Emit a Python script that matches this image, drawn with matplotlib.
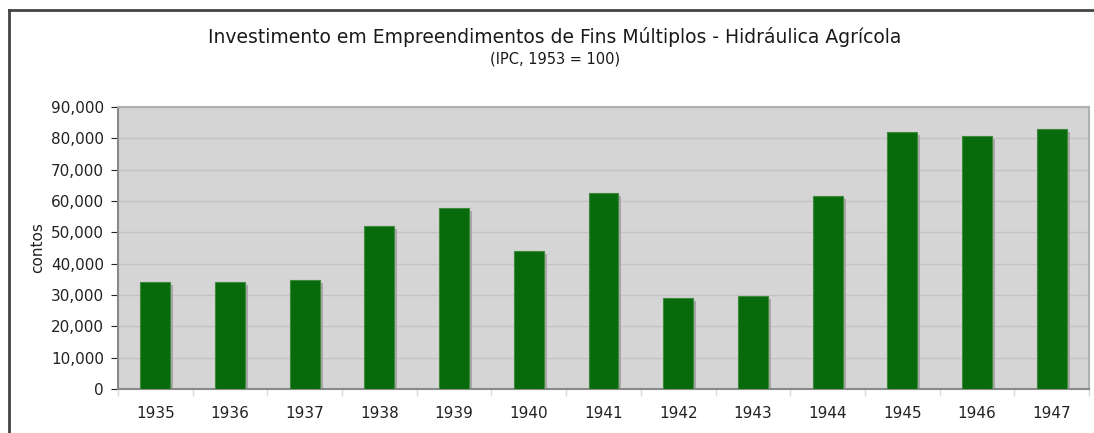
import matplotlib.pyplot as plt
import matplotlib.transforms as mtransforms
from matplotlib.ticker import FuncFormatter, MultipleLocator
import numpy as np

# values (contos)
years = ['1935', '1936', '1937', '1938', '1939', '1940', '1941',
         '1942', '1943', '1944', '1945', '1946', '1947']
investment = [34050, 34250, 34800, 52000, 57800, 43950, 62450,
              28950, 29600, 61700, 81900, 80750, 83100]

title = 'Investimento em Empreendimentos de Fins Múltiplos - Hidráulica Agrícola'
subtitle = '(IPC, 1953 = 100)'
ylabel = 'contos'

plt.rcParams['font.family'] = ['DejaVu Sans']

fig = plt.figure(figsize=(10.94, 4.33), dpi=100)
ax = fig.add_axes([118 / 1094, 44 / 433, 971 / 1094, 282 / 433])

x = np.arange(len(years))

# drop shadow behind each bar
shadow = mtransforms.offset_copy(ax.transData, fig=fig, x=3, y=-3, units='dots')
ax.bar(x, investment, width=0.4, color='#a8a8a8', transform=shadow, zorder=2)
ax.bar(x, investment, width=0.4, color='#076b0b', edgecolor='#3d8a3f',
       linewidth=0.8, zorder=3)

ax.set_xlim(-0.5, len(years) - 0.5)
ax.set_ylim(0, 90000)
ax.set_facecolor('#d5d5d5')
ax.yaxis.set_major_locator(MultipleLocator(10000))
ax.yaxis.set_major_formatter(FuncFormatter(lambda v, p: f'{int(v):,}'))
ax.grid(axis='y', color='#c2c2c2', linewidth=1, zorder=1)
ax.set_axisbelow(True)

ax.set_xticks(x)
ax.set_xticklabels(years)
ax.set_xticks(np.arange(-0.5, len(years), 1), minor=True)
ax.tick_params(axis='x', which='major', length=0, pad=12, labelsize=11, colors='#222222')
ax.tick_params(axis='x', which='minor', length=5, color='#dadada', width=1)
ax.tick_params(axis='y', length=5, color='#d0d0d0', labelsize=11, pad=5, colors='#222222')
ax.tick_params(axis='y', colors='#222222')

for side in ['top', 'right']:
    ax.spines[side].set_color('#b0b0b0')
    ax.spines[side].set_linewidth(1.5)
for side in ['left', 'bottom']:
    ax.spines[side].set_color('#8a8a8a')
    ax.spines[side].set_linewidth(1.5)

ax.set_ylabel(ylabel, fontsize=11, color='#222222', labelpad=4)

fig.text(555 / 1094, 1 - 37 / 433, title, ha='center', va='center', fontsize=13.5, color='#1a1a1a')
fig.text(555 / 1094, 1 - 59 / 433, subtitle, ha='center', va='center', fontsize=10.5, color='#1a1a1a')

# outer frame (left and top edges visible in the reference)
fig.add_artist(plt.Line2D([9 / 1094, 9 / 1094], [0, 1 - 10 / 433], transform=fig.transFigure,
                          color='#444444', linewidth=2))
fig.add_artist(plt.Line2D([9 / 1094, 1], [1 - 10 / 433, 1 - 10 / 433], transform=fig.transFigure,
                          color='#444444', linewidth=2))

fig.savefig('out.png', dpi=100)
